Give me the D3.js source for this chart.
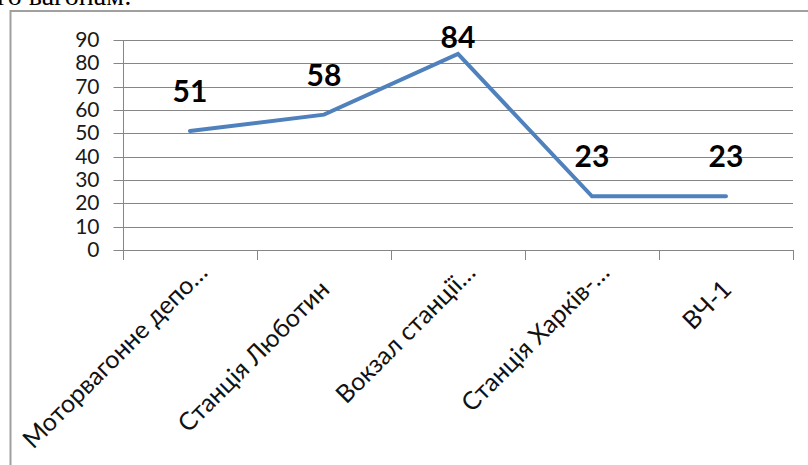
<!DOCTYPE html>
<html>
<head>
<meta charset="utf-8">
<script src="https://cdn.jsdelivr.net/npm/d3@7"></script>
<style>
  html, body { margin: 0; padding: 0; background: #fff; overflow: hidden; }
  svg { display: block; }
</style>
</head>
<body>
<svg id="chart" width="808" height="465"></svg>
<script>
// ---- data ----
const categories = ["Моторвагонне депо…", "Станція Люботин", "Вокзал станції…", "Станція Харків-…", "ВЧ-1"];
const values = [51, 58, 84, 23, 23];
const yTicks = [0, 10, 20, 30, 40, 50, 60, 70, 80, 90];
const headerText = "го вагонам:";

// ---- layout ----
const svg = d3.select("#chart");
const plot = { left: 123, right: 793, top: 40, bottom: 250 };

const x = d3.scaleBand().domain(categories).range([plot.left, plot.right]).paddingInner(0).paddingOuter(0);
const y = d3.scaleLinear().domain([0, 90]).range([plot.bottom, plot.top]);
const cx = d => x(d) + x.bandwidth() / 2;

// partial header text (cut at top, as in the source screenshot)
svg.append("text")
  .attr("x", -3).attr("y", 5)
  .attr("font-family", "Liberation Serif, serif")
  .attr("font-size", 28)
  .attr("fill", "#000")
  .text(headerText);

// chart border (right & bottom off-screen)
svg.append("rect")
  .attr("x", 10.5).attr("y", 11)
  .attr("width", 830).attr("height", 480)
  .attr("fill", "none")
  .attr("stroke", "#a0a0a0")
  .attr("stroke-width", 2);

// gridlines
svg.append("g")
  .selectAll("line")
  .data(yTicks.filter(t => t > 0))
  .join("line")
  .attr("x1", plot.left).attr("x2", plot.right)
  .attr("y1", d => Math.round(y(d)) + 0.5).attr("y2", d => Math.round(y(d)) + 0.5)
  .attr("stroke", "#868686").attr("stroke-width", 1);

// y axis
const yAxis = d3.axisLeft(y).tickValues(yTicks).tickSize(10).tickPadding(14).tickFormat(d3.format("d"));
const gy = svg.append("g").attr("transform", `translate(${plot.left + 0.5},0)`).call(yAxis);
gy.select(".domain").attr("stroke", "#868686").attr("d", `M0,${plot.top}V${plot.bottom}`);
gy.selectAll(".tick line").attr("stroke", "#868686");
gy.selectAll(".tick text")
  .attr("font-family", "Lato, sans-serif")
  .attr("font-size", 21)
  .attr("fill", "#1a1a1a");
gy.selectAll(".tick").attr("transform", d => `translate(0,${Math.round(y(d)) + 0.5})`);

// x axis
const boundaries = categories.map(c => x(c)).concat([plot.right]);
const gx = svg.append("g");
gx.append("line")
  .attr("x1", plot.left).attr("x2", plot.right)
  .attr("y1", plot.bottom + 0.5).attr("y2", plot.bottom + 0.5)
  .attr("stroke", "#868686");
gx.selectAll("line.tk")
  .data(boundaries)
  .join("line")
  .attr("class", "tk")
  .attr("x1", d => Math.round(d) + 0.5).attr("x2", d => Math.round(d) + 0.5)
  .attr("y1", plot.bottom).attr("y2", plot.bottom + 10)
  .attr("stroke", "#868686");

gx.selectAll("text")
  .data(categories)
  .join("text")
  .attr("transform", d => {
    const truncated = d.endsWith("…");
    const dx = truncated ? 19 : 7;
    const dy = truncated ? 24 : 41;
    return `translate(${cx(d) + dx},${plot.bottom + dy}) rotate(-45)`;
  })
  .attr("text-anchor", "end")
  .attr("font-family", "Lato, sans-serif")
  .attr("font-size", 25)
  .attr("fill", "#111")
  .text(d => d);

// line
const line = d3.line().x((d, i) => cx(categories[i])).y(d => y(d));
svg.append("path")
  .datum(values)
  .attr("d", line)
  .attr("fill", "none")
  .attr("stroke", "#4f81bd")
  .attr("stroke-width", 4)
  .attr("stroke-linecap", "round")
  .attr("stroke-linejoin", "miter");

// data labels
svg.append("g")
  .selectAll("text")
  .data(values)
  .join("text")
  .attr("x", (d, i) => cx(categories[i]))
  .attr("y", d => Math.max(y(d) - 29, plot.top + 8))
  .attr("text-anchor", "middle")
  .attr("font-family", "Lato, sans-serif")
  .attr("font-weight", "bold")
  .attr("font-size", 30)
  .attr("fill", "#000")
  .text(d => d);
</script>
</body>
</html>
